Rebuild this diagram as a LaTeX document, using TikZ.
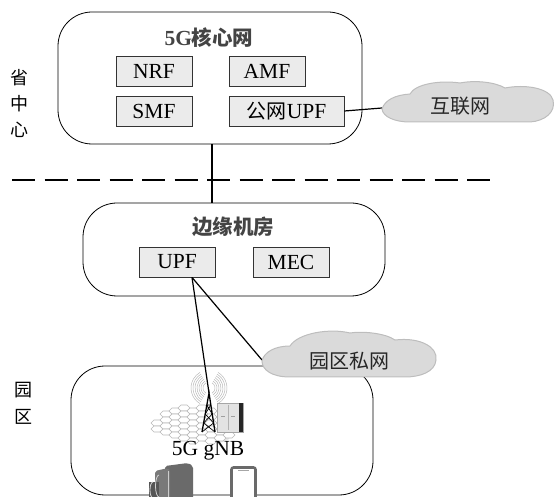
\documentclass[tikz,border=0pt]{standalone}
\usepackage{fontspec}
\setmainfont{Liberation Serif}
\newfontfamily\cjk{Noto Sans CJK SC}
\usetikzlibrary{calc}
\definecolor{boxfill}{HTML}{EBEBEB}
\definecolor{cloudfill}{HTML}{DADADA}
\definecolor{cloudline}{HTML}{BDBDBD}
\definecolor{titlegray}{HTML}{444444}
\definecolor{camgray}{HTML}{6A6A6A}
\begin{document}
\begin{tikzpicture}[x=1pt,y=-1pt,
  font=\fontsize{21.5}{23}\selectfont,
  nf/.style={draw=black!80, fill=boxfill, line width=0.8pt, minimum width=76pt,
             minimum height=30pt, inner sep=0pt},
  zone/.style={draw, line width=0.8pt, rounded corners=34pt, inner sep=0pt},
  link/.style={line width=1.2pt},
  cloudshape/.style={fill=cloudfill, draw=cloudline, line width=1pt},
  side/.style={font=\cjk\fontsize{18}{20}\selectfont},
  title/.style={font=\bfseries\fontsize{21.5}{23}\selectfont, text=titlegray},
  cjktext/.style={font=\cjk\fontsize{20}{22}\selectfont, text=black!85},
  hex/.style={draw=gray!55, fill=white, line width=0.6pt},
  wave/.style={draw=gray!55, line width=0.5pt}]

\useasboundingbox (0,0) rectangle (555,497);
\clip (0,0) rectangle (555,497);

% ---- zones ----
\node[zone, minimum width=304pt, minimum height=132pt] (core) at (210,78) {};
\node[zone, minimum width=302pt, minimum height=93pt] (edge) at (234,249.5) {};
\node[zone, minimum width=302pt, minimum height=129pt] (park) at (222,430.5) {};

% ---- zone titles ----
\node[title] (coretitle) at (209,38) {5G{\cjk\fontsize{20.5}{22}\selectfont 核心网}};
\node[title, font=\cjk\bfseries\fontsize{20.5}{22}\selectfont] (edgetitle) at (233,227) {边缘机房};

% ---- side labels ----
\node[side] (s1) at (19,78) {省};
\node[side] (s2) at (19,104) {中};
\node[side] (s3) at (19,130) {心};
\node[side] (p1) at (24,390) {园};
\node[side] (p2) at (24,417) {区};

% ---- network functions ----
\node[nf] (nrf) at (154,71) {NRF};
\node[nf] (amf) at (267,71) {AMF};
\node[nf] (smf) at (154,111) {SMF};
\node[nf, minimum width=115pt] (pupf) at (286.5,111) {{\cjk\fontsize{20}{22}\selectfont 公网}UPF};
\node[nf] (upf) at (177,262) {UPF};
\node[nf] (mec) at (291,262) {MEC};

% ---- boundary between province centre and park ----
\draw[line width=1.6pt, dash pattern=on 23pt off 9.5pt] (12,180) coordinate (dl) -- (490,180) coordinate (dr);

% ---- connector points ----
\coordinate (inetL) at (382,108);
\coordinate (privL) at (262,360);
\coordinate (apex) at (209,393);

% ---- connectors ----
\draw[link] ([xshift=2pt]core.south) -- ([xshift=2pt]core.south |- edge.north);
\draw[link] (pupf.east) -- (inetL);
\draw[link] ([xshift=15pt]upf.south) -- (apex);
\draw[link] ([xshift=15pt]upf.south) -- (privL);

% ---- clouds ----
\draw[cloudshape] (382,109) .. controls (385,100) and (395,95) .. (410,94)
  .. controls (415,84) and (440,80) .. (460,83)
  .. controls (475,80) and (495,82) .. (505,88)
  .. controls (525,84) and (550,88) .. (553,100)
  .. controls (556,112) and (545,121) .. (530,122)
  -- (410,122) .. controls (395,122) and (383,117) .. (382,109) -- cycle;
\node[cjktext] (inet) at (460,106) {互联网};

\draw[cloudshape] (262,361) .. controls (264,352) and (275,346) .. (290,346)
  .. controls (298,333) and (330,328) .. (350,333)
  .. controls (362,331) and (385,333) .. (395,340)
  .. controls (420,337) and (438,347) .. (436,360)
  .. controls (435,372) and (420,377) .. (405,377)
  -- (290,377) .. controls (272,377) and (262,370) .. (262,361) -- cycle;
\node[cjktext] (priv) at (349,361) {园区私网};

% ---- gNB: honeycomb cells ----
\fill[gray!18] (214,437) ellipse (16pt and 6pt);
\foreach \i in {0,...,9} {
  \foreach \j in {0,...,7} {
    \pgfmathsetmacro\hx{157+9*\i}
    \pgfmathsetmacro\hy{405+6*\j+3*mod(\i,2)}
    \pgfmathtruncatemacro\inside{((\hx-196)/40)^2+((\hy-425)/18)^2<1}
    \ifnum\inside=1
      \draw[hex] (\hx-6,\hy) -- (\hx-3,\hy-3) -- (\hx+3,\hy-3) -- (\hx+6,\hy)
        -- (\hx+3,\hy+3) -- (\hx-3,\hy+3) -- cycle;
    \fi
  }
}

% ---- gNB: radio waves ----
\foreach \r in {6,8,10,12,14,16,18} {
  \draw[wave] (209,388) ++(120:\r) arc[start angle=120, end angle=240, x radius=\r, y radius=\r];
  \draw[wave] (209,388) ++(-60:\r) arc[start angle=-60, end angle=60, x radius=\r, y radius=\r];
}

% ---- gNB: lattice tower ----
\draw[line width=1.3pt] (202,432) -- (apex) -- (215,432);
\draw[line width=0.7pt] (206.8,405) -- (212.2,414) -- (203.6,423) -- (215,432)
  (210.8,405) -- (205.2,414) -- (213.6,423) -- (202,432)
  (206.8,405) -- (210.8,405);

% ---- gNB: baseband cabinet ----
\draw[fill=gray!22, draw=gray!70, line width=0.6pt] (217,403) rectangle (243,432);
\fill[black!85] (239,403) rectangle (243,432);
\draw[gray!60, line width=0.5pt] (228,405) -- (228,430);
\draw[gray!75, line width=1pt] (221,417) -- (225,417) (231,417) -- (235,417);

\node (gnb) at (208,451) {5G gNB};

% ---- camera: body and lens ----
\fill[camgray, rounded corners=2pt] (165,466) -- (188,463) -- (193,466) -- (193,500) -- (165,500) -- cycle;
\fill[camgray!90, rounded corners=2pt] (155,471) -- (168,468) -- (170,470) -- (170,500) -- (155,500) -- cycle;
\fill[camgray!80!black] (149,482) rectangle (159,500);
\draw[gray!35, line width=0.8pt] (153,482) arc[start angle=270, end angle=90, x radius=3, y radius=8];
\draw[gray!35, line width=0.8pt] (159,475) arc[start angle=270, end angle=90, x radius=3.5, y radius=11];
\draw[gray!40, line width=0.6pt] (168,471) -- (168,497);

% ---- tablet ----
\draw[draw=camgray, line width=2.6pt, fill=white, rounded corners=2pt] (231.5,467.5) rectangle (255.5,505);
\draw[gray!70, line width=0.8pt] (238,470.5) -- (249,470.5);
\end{tikzpicture}
\end{document}
